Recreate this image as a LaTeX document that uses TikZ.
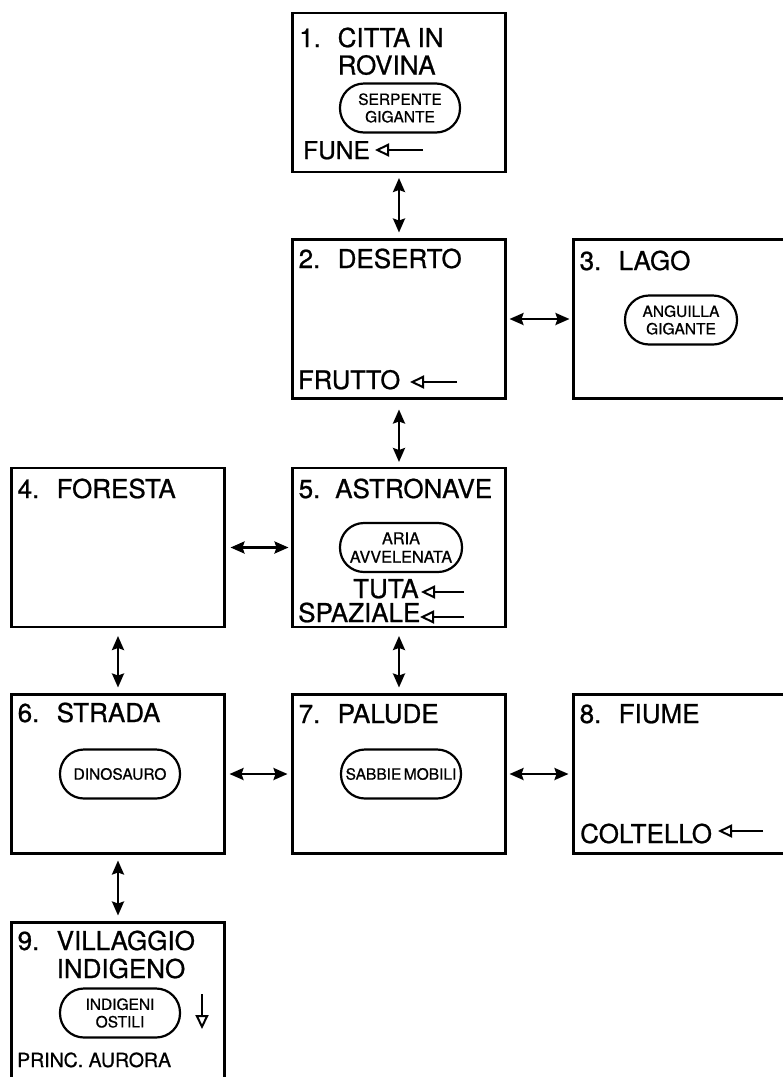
\documentclass[tikz,border=0pt]{standalone}
\usepackage{fontspec}
\setmainfont{TeX Gyre Heros}[FakeBold=0.8]
\usetikzlibrary{arrows.meta}
\begin{document}
\begin{tikzpicture}[x=1pt,y=-1pt,
  room/.style={draw, line width=2.7pt, minimum width=213pt, minimum height=159pt, inner sep=0pt, outer sep=0pt},
  pill/.style={draw, line width=2.2pt, rounded corners=24pt, minimum width=120pt, minimum height=49pt, inner sep=0pt, align=center, font=\fontsize{15.5}{17.5}\selectfont},
  ttl/.style={anchor=base west, inner sep=0pt, font=\fontsize{26}{27.5}\selectfont},
  itm/.style={anchor=base west, inner sep=0pt, font=\fontsize{26}{27}\selectfont},
  link/.style={line width=2.4pt, {Stealth[length=14pt,width=12pt,inset=2pt]}-{Stealth[length=14pt,width=12pt,inset=2pt]}},
  get/.style={line width=2.8pt, -{Triangle[open,length=14pt,width=13pt,line width=2pt]}}
]
\useasboundingbox (0,0) rectangle (783,1077);
\clip (0,0) rectangle (783,1077);

% rooms
\node[room] (b1) at (399,92.5) {};
\node[room] (b2) at (399,319) {};
\node[room] (b3) at (680,319) {};
\node[room] (b4) at (118,547.5) {};
\node[room] (b5) at (399,547.5) {};
\node[room] (b6) at (118,774) {};
\node[room] (b7) at (399,774) {};
\node[room] (b8) at (680,774) {};
\node[room] (b9) at (118,1002) {};

% titles
\node[ttl] (n1) at (299,47) {1.};
\node[ttl] (t1) at (337.5,47) {CITTA IN};
\node[ttl] (t1b) at (337.5,74.5) {ROVINA};
\node[ttl] (n2) at (298.5,268) {2.};
\node[ttl] (t2) at (337.5,268) {DESERTO};
\node[ttl] (n3) at (579.5,270) {3.};
\node[ttl] (t3) at (618.5,270) {LAGO};
\node[ttl] (n4) at (17.5,498) {4.};
\node[ttl] (t4) at (56.5,498) {FORESTA};
\node[ttl] (n5) at (298.5,498) {5.};
\node[ttl] (t5) at (335,498) {ASTRONAVE};
\node[ttl] (n6) at (17.5,722) {6.};
\node[ttl] (t6) at (56.5,722) {STRADA};
\node[ttl] (n7) at (298.5,723) {7.};
\node[ttl] (t7) at (337.5,723) {PALUDE};
\node[ttl] (n8) at (579.5,723) {8.};
\node[ttl] (t8) at (618.5,723) {FIUME};
\node[ttl] (n9) at (17.5,950) {9.};
\node[ttl] (t9) at (56.5,950) {VILLAGGIO};
\node[ttl] (t9b) at (56.5,978) {INDIGENO};

% dangers
\node[pill] (p1) at (400,108) {SERPENTE\\GIGANTE};
\node[pill, minimum width=112pt] (p3) at (681,320) {ANGUILLA\\GIGANTE};
\node[pill, minimum width=122pt, font=\fontsize{16.3}{18.5}\selectfont] (p5) at (401,547.5) {ARIA\\AVVELENATA};
\node[pill] (p6) at (120,774) {DINOSAURO};
\node[pill] (p7) at (401,774) {SABBIE\hspace{2.5pt}MOBILI};
\node[pill] (p9) at (120,1013) {INDIGENI\\OSTILI};

% objects
\node[itm, font=\fontsize{24.5}{26}\selectfont] (o1) at (303,159) {FUNE};
\node[itm, font=\fontsize{25.5}{26}\selectfont] (o2) at (298,389) {FRUTTO};
\node[itm] (o5a) at (353,598) {TUTA};
\node[itm] (o5b) at (298,622) {SPAZIALE};
\node[itm] (o8) at (580,843) {COLTELLO};
\node[itm, font=\fontsize{19.5}{21}\selectfont] (o9) at (17,1067) {PRINC. AURORA};

\coordinate (a1s) at (423,150);  \coordinate (a1e) at (375,150);
\coordinate (a2s) at (457,382);  \coordinate (a2e) at (410,382);
\coordinate (a5s) at (464,592);  \coordinate (a5e) at (421,592);
\coordinate (a6s) at (464,617);  \coordinate (a6e) at (420,617);
\coordinate (a8s) at (763,831);  \coordinate (a8e) at (718,831);
\coordinate (a9s) at (202,994);  \coordinate (a9e) at (202,1029);
\draw[get] (a1s) -- (a1e);
\draw[get] (a2s) -- (a2e);
\draw[get] (a5s) -- (a5e);
\draw[get] (a6s) -- (a6e);
\draw[get] (a8s) -- (a8e);
\draw[get, line width=1.8pt] (a9s) -- (a9e);

% links
\draw[link, shorten <=6pt, shorten >=7pt] (b1.south) -- (b2.north);
\draw[link, shorten <=11pt, shorten >=6pt] (b2.south) -- (b5.north);
\draw[link, shorten <=9pt, shorten >=7pt] (b4.south) -- (b6.north);
\draw[link, shorten <=9pt, shorten >=7pt] (b5.south) -- (b7.north);
\draw[link, shorten <=7pt, shorten >=7pt] (b6.south) -- (b9.north);
\draw[link, shorten <=4pt, shorten >=4pt] (b2.east) -- (b3.west);
\draw[link, shorten <=6pt, shorten >=4pt] (b4.east) -- (b5.west);
\draw[link, shorten <=5pt, shorten >=5pt] (b6.east) -- (b7.west);
\draw[link, shorten <=4pt, shorten >=5pt] (b7.east) -- (b8.west);
\end{tikzpicture}
\end{document}
